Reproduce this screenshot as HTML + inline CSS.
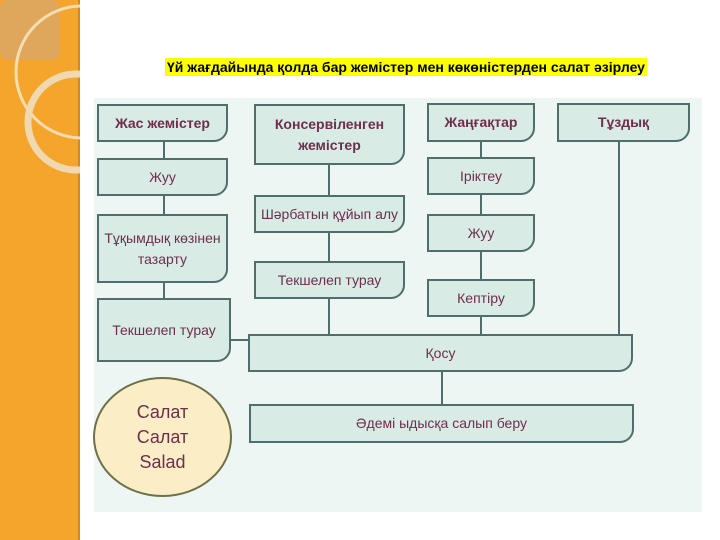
<!DOCTYPE html>
<html><head><meta charset="utf-8"><style>
*{margin:0;padding:0;box-sizing:border-box}
body{width:720px;height:540px;background:#fff;position:relative;overflow:hidden;font-family:"Liberation Sans",sans-serif}
.side{position:absolute;left:0;top:0;width:78px;height:540px;background:#f3a52c}
.sl{position:absolute;left:78px;top:0;width:2px;height:540px;background:#d08a20}
.title{position:absolute;left:165px;top:58px;height:18px;padding:0 2px;background:#ffff00;font-size:14px;font-weight:bold;color:#000;line-height:18px;white-space:nowrap}
.bg{position:absolute;left:94px;top:98px;width:608px;height:414px;background:#edf6f2}
.b{position:absolute;background:#d8ebe5;border:2px solid #506e6c;border-bottom-right-radius:14px;display:flex;align-items:center;justify-content:center;text-align:center;color:#6e2e4e;font-size:14px;line-height:21px}
.h{font-weight:bold}
.v{position:absolute;width:2px;background:#506e6c}
.hl{position:absolute;height:2px;background:#506e6c}
</style></head><body>
<div class="side"></div><div class="sl"></div>
<svg style="position:absolute;left:0;top:0" width="80" height="200">
<rect x="0" y="0" width="60" height="60" rx="8" fill="#d9a868" opacity="0.8"/>
<circle cx="82" cy="72" r="66" fill="none" stroke="#f7dcb0" stroke-width="3"/>
<circle cx="76" cy="122" r="48" fill="none" stroke="#f0d8b0" stroke-width="7"/>
</svg>
<div class="title">Үй жағдайында қолда бар жемістер мен көкөністерден салат әзірлеу</div>
<div class="bg"></div>
<div class="v" style="left:163px;top:140px;height:160px"></div>
<div class="v" style="left:328px;top:164px;height:172px"></div>
<div class="v" style="left:480px;top:140px;height:196px"></div>
<div class="v" style="left:618px;top:140px;height:196px"></div>
<div class="v" style="left:441px;top:370px;height:36px"></div>
<div class="hl" style="left:229px;top:339px;width:22px"></div>
<div class="b h" style="left:97px;top:104px;width:131px;height:38px">Жас жемістер</div>
<div class="b" style="left:97px;top:158px;width:131px;height:38px">Жуу</div>
<div class="b" style="left:97px;top:214px;width:131px;height:69px">Тұқымдық көзінен<br>тазарту</div>
<div class="b" style="left:97px;top:298px;width:134px;height:64px">Текшелеп турау</div>
<div class="b h" style="left:254px;top:104px;width:151px;height:61px">Консервіленген<br>жемістер</div>
<div class="b" style="left:254px;top:195px;width:151px;height:38px">Шәрбатын құйып алу</div>
<div class="b" style="left:254px;top:261px;width:151px;height:38px">Текшелеп турау</div>
<div class="b h" style="left:427px;top:103px;width:108px;height:39px">Жаңғақтар</div>
<div class="b" style="left:427px;top:157px;width:108px;height:38px">Іріктеу</div>
<div class="b" style="left:427px;top:214px;width:108px;height:38px">Жуу</div>
<div class="b" style="left:427px;top:279px;width:108px;height:38px">Кептіру</div>
<div class="b h" style="left:557px;top:103px;width:133px;height:39px">Тұздық</div>
<div class="b" style="left:248px;top:334px;width:385px;height:38px">Қосу</div>
<div class="b" style="left:249px;top:404px;width:385px;height:39px">Әдемі ыдысқа салып беру</div>
<div style="position:absolute;left:93px;top:377px;width:139px;height:120px;border-radius:50%;background:#fbeec6;border:2px solid #6e7048;display:flex;align-items:center;justify-content:center;text-align:center;color:#6e2e4e;font-size:18px;line-height:25px">Салат<br>Салат<br>Salad</div>
</body></html>
